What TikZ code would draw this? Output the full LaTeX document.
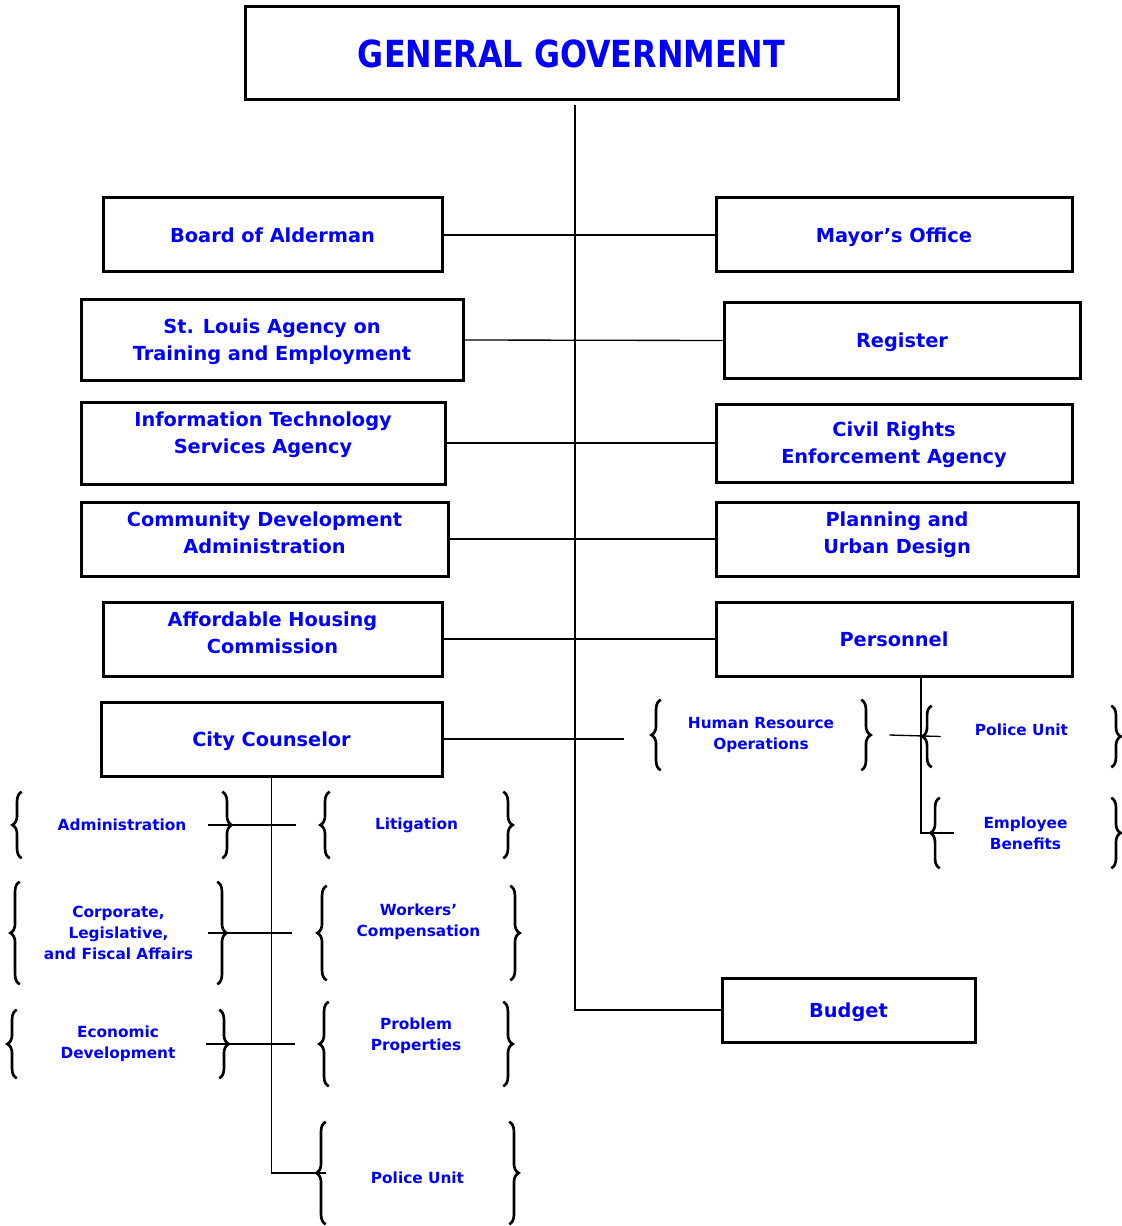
\documentclass[tikz,border=0pt]{standalone}
\usepackage{fontspec}
\setmainfont{DejaVu Sans}
\usetikzlibrary{decorations.pathreplacing}
\newdimen\px
\px=0.75pt

\begin{document}
\begin{tikzpicture}[x=0.75pt,y=-0.75pt,
	box/.style={draw, line width=2.25pt, text=blue, align=center, inner sep=0pt, text depth=0pt, font=\fontsize{14.5}{20.2}\selectfont\bfseries},
	unit/.style={text=blue, align=center, inner sep=0pt, font=\fontsize{11.5}{15.8}\selectfont\bfseries},
	up/.style={text depth=#1},
	brc/.style={decorate, decoration={brace, amplitude=7pt}, line width=2pt},
	link/.style={line width=1pt}]
	\useasboundingbox (0,0) rectangle (1121,1226);
	\node [box, minimum width=653\px, minimum height=93\px] (gov) at (571.5,53.5) {\fontsize{28}{34}\selectfont\scalebox{0.85}[1]{GENERAL GOVERNMENT}};
	\node [box, minimum width=339\px, minimum height=74\px] (board) at (272.5,235) {Board of Alderman};
	\node [box, minimum width=382\px, minimum height=80\px] (agency) at (272,340) {St. Louis Agency on\\Training and Employment};
	\node [box, up=15.5pt, minimum width=364\px, minimum height=82\px] (infotech) at (263,443) {Information Technology\\Services Agency};
	\node [box, up=9pt, minimum width=367\px, minimum height=74\px] (community) at (264.5,539) {Community Development\\Administration};
	\node [box, up=9pt, minimum width=339\px, minimum height=74\px] (housing) at (272.5,639) {Affordable Housing\\Commission};
	\node [box, minimum width=341\px, minimum height=74\px] (counselor) at (271.5,739) {City Counselor};
	\node [box, minimum width=356\px, minimum height=74\px] (mayor) at (894,235) {Mayor’s Office};
	\node [box, minimum width=356\px, minimum height=75\px] (register) at (902,340.5) {Register};
	\node [box, minimum width=356\px, minimum height=78\px] (civil) at (894,443) {Civil Rights\\Enforcement Agency};
	\node [box, up=9pt, minimum width=362\px, minimum height=74\px] (planning) at (897,539) {Planning and\\Urban Design};
	\node [box, minimum width=356\px, minimum height=74\px] (personnel) at (894,639) {Personnel};
	\node [box, minimum width=253\px, minimum height=64\px] (budget) at (848.5,1010) {Budget};
	\node [unit, minimum width=200\px, minimum height=70\px] (hr) at (761,735) {Human Resource\\Operations};
	\node [unit, text height=8.5pt, text depth=10pt, minimum width=179\px, minimum height=61\px] (policeR) at (1021.5,736.5) {Police Unit};
	\node [unit, minimum width=171\px, minimum height=70\px] (benefits) at (1025.5,833) {Employee\\Benefits};
	\node [unit, minimum width=200\px, minimum height=66\px] (admin) at (122,825) {Administration};
	\node [unit, minimum width=173\px, minimum height=66\px] (litigation) at (416.5,825) {Litigation};
	\node [unit, minimum width=197\px, minimum height=102\px] (corporate) at (118.5,933) {Corporate,\\Legislative,\\and Fiscal Affairs};
	\node [unit, up=19pt, minimum width=183\px, minimum height=94\px] (workers) at (418.5,933) {Workers’\\Compensation};
	\node [unit, up=14.5pt, minimum width=174\px, minimum height=84\px] (problem) at (416,1044) {Problem\\Properties};
	\node [unit, minimum width=202\px, minimum height=68\px] (economic) at (118,1044) {Economic\\Development};
	\node [unit, text height=16pt, text depth=0pt, minimum width=183\px, minimum height=102\px] (policeB) at (417.5,1173) {Police Unit};
	\foreach \n in {hr,policeR,benefits,admin,litigation,corporate,workers,economic,problem,policeB}{
		\draw [brc] (\n.south west) -- (\n.north west);
		\draw [brc] (\n.north east) -- (\n.south east);
	}
	\draw [link] ([xshift=3.5\px,yshift=-4\px]gov.south) |- (budget.west);
	\draw [link] (board.east) -- (mayor.west);
	\draw [link] (agency.east) -- (register.west);
	\draw [link] (infotech.east) -- (civil.west);
	\draw [link] (community.east) -- (planning.west);
	\draw [link] (housing.east) -- (personnel.west);
	\draw [link] (counselor.east) -- ++(180,0);
	\draw [link] ([xshift=28\px]hr.east) -- ([xshift=9\px]policeR.west);
	\draw [link] ([xshift=27\px]personnel.south) |- ([xshift=14\px]benefits.west);
	\draw [link] (counselor.south) |- (policeB.west);
	\draw [link] ([xshift=-14\px]admin.east) -- ([xshift=74\px]admin.east);
	\draw [link] ([xshift=-9\px]corporate.east) -- ([xshift=75\px]corporate.east);
	\draw [link] ([xshift=-13\px]economic.east) -- ([xshift=76\px]economic.east);
\end{tikzpicture}
\end{document}
